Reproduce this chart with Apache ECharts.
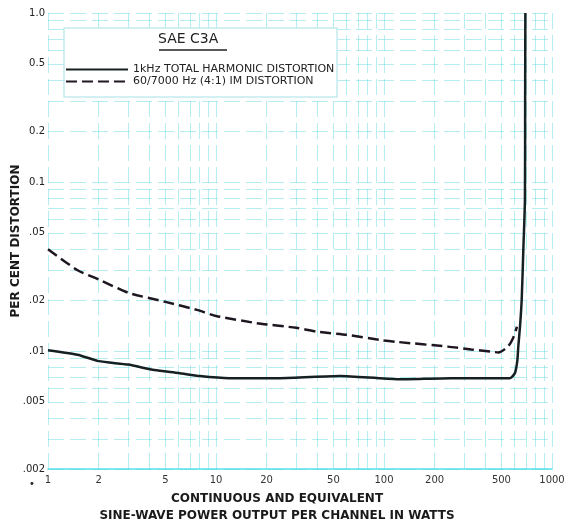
<!DOCTYPE html>
<html>
<head>
<meta charset="utf-8">
<title>SAE C3A distortion</title>
<script src="https://cdn.jsdelivr.net/npm/echarts@6/dist/echarts.min.js"></script>
<style>
  html, body { margin: 0; padding: 0; background: #fff; }
  #chart { width: 566px; height: 523px; }
</style>
</head>
<body>
<div id="chart"></div>
<script>
  // 1kHz THD: [watts, per cent]
  var thdData = [
    [1, 0.0101], [1.5, 0.0095], [2, 0.0087], [3, 0.0083], [4.3, 0.0077],
    [6, 0.0074], [8, 0.0071], [12, 0.0069], [24, 0.0069], [55, 0.0071],
    [120, 0.0068], [250, 0.0069], [490, 0.0069], [562, 0.0069], [602, 0.0074],
    [622, 0.0088], [630, 0.0106], [645, 0.0139], [660, 0.020], [675, 0.0396],
    [690, 0.078], [692, 0.3], [694, 1.0]
  ]
  // 60/7000 Hz IM
  var imData = [
    [1, 0.040], [1.5, 0.030], [2, 0.0265], [3, 0.0221], [5, 0.0195],
    [7.7, 0.0175], [10, 0.0161], [17.5, 0.0146], [30, 0.0137], [40, 0.0130],
    [60, 0.01245], [95, 0.0116], [120, 0.0113], [240, 0.0106], [330, 0.0102],
    [430, 0.0099], [480, 0.0098], [547, 0.0106], [586, 0.0119], [619, 0.0139]
  ]

  var xLabelValues = [1, 2, 5, 10, 20, 50, 100, 200, 500, 1000]
  var yLabelValues = [0.002, 0.005, 0.01, 0.02, 0.05, 0.1, 0.2, 0.5, 1]
  var yLabelTexts = ['.002', '.005', '.01', '.02', '.05', '0.1', '0.2', '0.5', '1.0']
  var xGridValues = [1, 2, 3, 4, 5, 6, 7, 8, 9, 10, 20, 30, 40, 50, 60, 70, 80, 90,
    100, 200, 300, 400, 500, 600, 700, 800, 900, 1000]
  var yGridValues = [0.002, 0.003, 0.004, 0.005, 0.006, 0.007, 0.008, 0.009,
    0.01, 0.02, 0.03, 0.04, 0.05, 0.06, 0.07, 0.08, 0.09,
    0.1, 0.2, 0.3, 0.4, 0.5, 0.6, 0.7, 0.8, 0.9, 1]

  var gridCyan = 'rgba(92, 214, 224, 0.45)'
  var borderCyan = 'rgba(70, 220, 230, 0.9)'
  var font = 'DejaVu Sans'

  function yLabel (v) {
    for (var i = 0; i < yLabelValues.length; i++) {
      if (Math.abs(v - yLabelValues[i]) / yLabelValues[i] < 1e-4) return yLabelTexts[i]
    }
    return ''
  }

  var chart = echarts.init(document.getElementById('chart'))
  chart.setOption({
    animation: false,
    backgroundColor: '#fff',
    title: {
      text: 'SAE C3A',
      left: 158,
      top: 32,
      padding: 0,
      textStyle: { fontFamily: font, fontSize: 14, fontWeight: 'normal', color: '#222' }
    },
    legend: {
      orient: 'vertical',
      left: 65,
      top: 64,
      padding: 0,
      itemWidth: 62,
      itemHeight: 8,
      itemGap: 1,
      itemStyle: { opacity: 0 },
      textStyle: { fontFamily: font, fontSize: 11, color: '#222' },
      data: ['1kHz TOTAL HARMONIC DISTORTION', '60/7000 Hz (4:1) IM DISTORTION']
    },
    graphic: [
      {
        type: 'rect',
        z: 1,
        shape: { x: 64, y: 28, width: 273, height: 69 },
        style: { fill: '#fff', stroke: '#c4eaee', lineWidth: 1.5 }
      },
      {
        type: 'line',
        z: 5,
        shape: { x1: 159, y1: 50, x2: 227, y2: 50 },
        style: { stroke: '#222', lineWidth: 1.5 }
      },
      {
        type: 'text',
        left: 29,
        top: 479,
        style: { text: '•', fontSize: 10, fill: '#222', fontFamily: font }
      }
    ],
    grid: { left: 48, right: 14, top: 13, bottom: 54, outerBoundsMode: 'none', containLabel: false },
    xAxis: {
      type: 'log',
      logBase: 10,
      min: 1,
      max: 1000,
      name: 'CONTINUOUS AND EQUIVALENT\nSINE-WAVE POWER OUTPUT PER CHANNEL IN WATTS',
      nameLocation: 'middle',
      nameGap: 21,
      nameTextStyle: {
        fontFamily: font, fontSize: 12, fontWeight: 'bold', color: '#1a1a1a',
        lineHeight: 17, padding: [0, 46, 0, 0]
      },
      axisLine: { show: true, lineStyle: { color: borderCyan, width: 1.5 } },
      axisTick: { show: false, customValues: xGridValues },
      axisLabel: {
        customValues: xLabelValues,
        margin: 6,
        fontFamily: font, fontSize: 10, color: '#333',
        formatter: function (v) { return String(Math.round(v)) }
      },
      splitLine: {
        show: true,
        lineStyle: { color: gridCyan, width: 1, type: [16, 6] }
      }
    },
    yAxis: {
      type: 'log',
      logBase: 10,
      min: 0.002,
      max: 1,
      name: 'PER CENT DISTORTION',
      nameLocation: 'middle',
      nameGap: 26,
      nameMoveOverlap: false,
      nameTextStyle: { fontFamily: font, fontSize: 12, fontWeight: 'bold', color: '#1a1a1a' },
      axisLine: { show: false },
      axisTick: { show: false, customValues: yGridValues },
      axisLabel: {
        customValues: yLabelValues,
        margin: 3,
        fontFamily: font, fontSize: 10, color: '#222',
        formatter: yLabel
      },
      splitLine: {
        show: true,
        lineStyle: { color: gridCyan, width: 1, type: [16, 6] }
      }
    },
    series: [
      {
        name: '1kHz TOTAL HARMONIC DISTORTION',
        type: 'line',
        symbol: 'none',
        smooth: 0.2,
        z: 3,
        lineStyle: { color: '#162022', width: 2.5 },
        itemStyle: { color: '#162022' },
        data: thdData
      },
      {
        name: '60/7000 Hz (4:1) IM DISTORTION',
        type: 'line',
        symbol: 'none',
        smooth: 0.2,
        z: 3,
        lineStyle: { color: '#1e1620', width: 2.5, type: [11, 5] },
        itemStyle: { color: '#1e1620' },
        data: imData
      }
    ]
  })
</script>
</body>
</html>
